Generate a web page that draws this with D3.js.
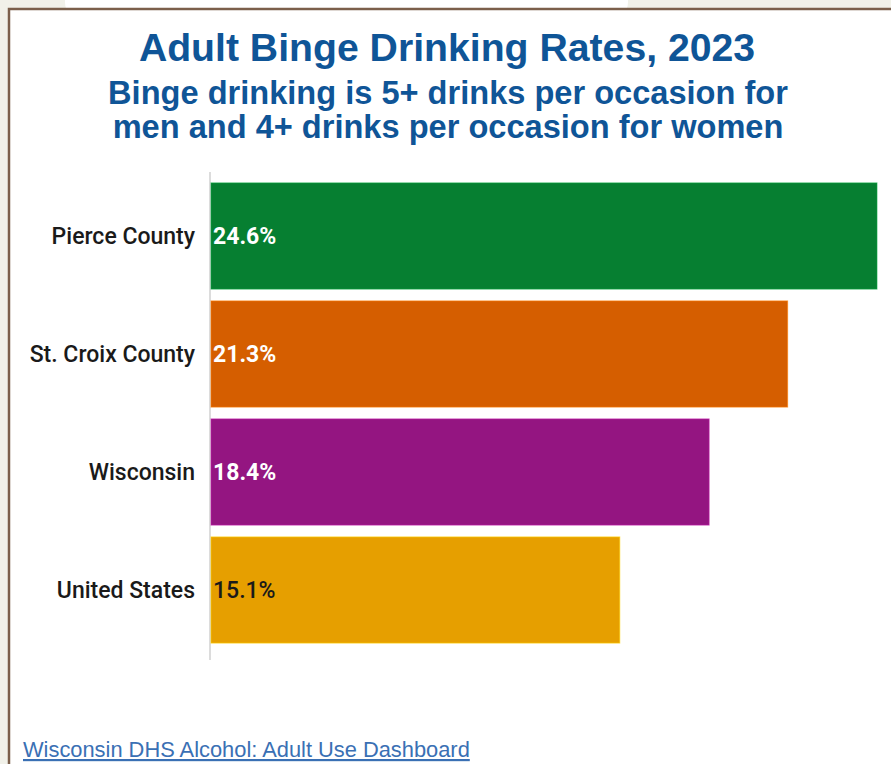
<!DOCTYPE html>
<html>
<head>
<meta charset="utf-8">
<script src="https://cdn.jsdelivr.net/npm/d3@7"></script>
<style>
  body { margin: 0; background: #f1f1e9; }
  svg { display: block; }
</style>
</head>
<body>
<div id="chart"></div>
<script>
const categories = ["Pierce County", "St. Croix County", "Wisconsin", "United States"];
const rates = [24.6, 21.3, 18.4, 15.1];
const barColors = ["#067f31", "#d55e00", "#941581", "#e69f00"];
const valueColors = ["#ffffff", "#ffffff", "#ffffff", "#1a1a1a"];

const titleText = "Adult Binge Drinking Rates, 2023";
const subtitleLines = [
  "Binge drinking is 5+ drinks per occasion for",
  "men and 4+ drinks per occasion for women"
];
const linkText = "Wisconsin DHS Alcohol: Adult Use Dashboard";

const W = 891, H = 764;
const data = categories.map((c, i) => ({ name: c, value: rates[i], color: barColors[i], textColor: valueColors[i] }));

const svg = d3.select("#chart").append("svg")
  .attr("width", W)
  .attr("height", H);

// page background + white card
svg.append("rect").attr("width", W).attr("height", H).attr("fill", "#f1f1e9");
svg.append("rect")
  .attr("x", 65).attr("y", -20)
  .attr("width", 563).attr("height", 40)
  .attr("rx", 18)
  .attr("fill", "#ffffff");
svg.append("rect")
  .attr("x", 9).attr("y", 9)
  .attr("width", W + 20).attr("height", H + 20)
  .attr("fill", "#ffffff")
  .attr("stroke", "#7b5f4b")
  .attr("stroke-width", 2.5);

// titles
svg.append("text")
  .attr("x", 447)
  .attr("y", 61)
  .attr("text-anchor", "middle")
  .style("font-family", "'Liberation Sans', Arial, sans-serif")
  .style("font-weight", "bold")
  .style("font-size", "39.2px")
  .style("fill", "#0f5597")
  .text(titleText);

svg.selectAll(".subtitle")
  .data(subtitleLines)
  .enter().append("text")
  .attr("class", "subtitle")
  .attr("x", 448)
  .attr("y", (d, i) => 104 + i * 34)
  .attr("text-anchor", "middle")
  .style("font-family", "'Liberation Sans', Arial, sans-serif")
  .style("font-weight", "bold")
  .style("font-size", "32.6px")
  .style("fill", "#0f5597")
  .text(d => d);

// scales
const x = d3.scaleLinear()
  .domain([0, d3.max(rates)])
  .range([211, 877]);

const y = d3.scaleBand()
  .domain(categories)
  .range([177, 649])
  .paddingInner(0.1)
  .paddingOuter(0.05);

// axis baseline
svg.append("line")
  .attr("x1", 210).attr("x2", 210)
  .attr("y1", 172).attr("y2", 660)
  .attr("stroke", "#dcdcdc")
  .attr("stroke-width", 2);

// bars
svg.selectAll(".bar")
  .data(data)
  .enter().append("rect")
  .attr("class", "bar")
  .attr("x", x(0))
  .attr("y", d => y(d.name))
  .attr("width", d => x(d.value) - x(0))
  .attr("height", y.bandwidth())
  .attr("fill", d => d.color)
  .attr("stroke", d => d3.color(d.color).brighter(0.8))
  .attr("stroke-opacity", 0.6)
  .attr("stroke-width", 1);

// category labels
svg.selectAll(".cat-label")
  .data(data)
  .enter().append("text")
  .attr("class", "cat-label")
  .attr("x", 195)
  .attr("y", d => y(d.name) + y.bandwidth() / 2)
  .attr("dy", "0.35em")
  .attr("text-anchor", "end")
  .style("font-family", "Roboto, sans-serif")
  .style("font-weight", 500)
  .style("font-size", "23px")
  .style("fill", "#1a1a1a")
  .text(d => d.name);

// value labels
svg.selectAll(".val-label")
  .data(data)
  .enter().append("text")
  .attr("class", "val-label")
  .attr("x", x(0) + 2)
  .attr("y", d => y(d.name) + y.bandwidth() / 2)
  .attr("dy", "0.35em")
  .style("font-family", "Roboto, sans-serif")
  .style("font-weight", d => d.textColor === "#ffffff" ? "bold" : 500)
  .style("font-size", "23px")
  .style("fill", d => d.textColor)
  .text(d => d.value.toFixed(1) + "%");

// source link
svg.append("text")
  .attr("x", 23)
  .attr("y", 757)
  .style("font-family", "'Liberation Sans', Arial, sans-serif")
  .style("font-size", "21.85px")
  .style("fill", "#3a70b4")
  .style("text-decoration", "underline")
  .text(linkText);
</script>
</body>
</html>
